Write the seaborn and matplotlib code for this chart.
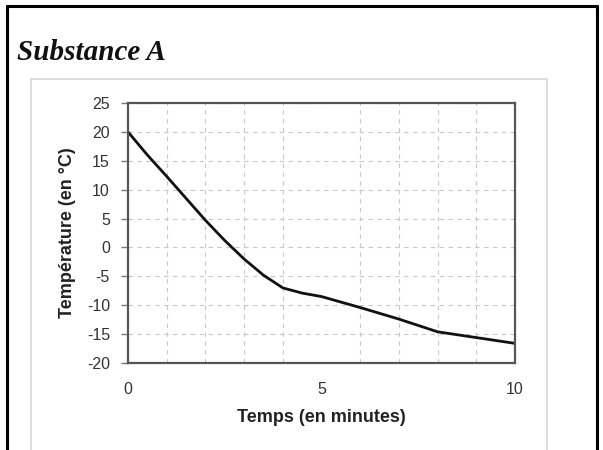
import matplotlib
matplotlib.use("Agg")
import matplotlib.pyplot as plt
import seaborn as sns
import pandas as pd
from matplotlib.lines import Line2D

sns.set_style("white")
plt.rcParams['font.family'] = ['Liberation Sans', 'DejaVu Sans']
plt.rcParams['axes.unicode_minus'] = False

# data
temps_min = [0, 0.5, 1, 1.5, 2, 2.5, 3, 3.5, 4, 4.5, 5, 6, 7, 8, 9, 10]
temp_c = [20, 16.0, 12.3, 8.5, 4.7, 1.2, -2.0, -4.8, -7.0, -7.9, -8.5, -10.4, -12.4, -14.6, -15.6, -16.6]
x_ticks = [0, 5, 10]
y_ticks = [25, 20, 15, 10, 5, 0, -5, -10, -15, -20]

df = pd.DataFrame({'temps': temps_min, 'temp': temp_c})

fig = plt.figure(figsize=(6.03, 4.5), dpi=100)
ax = fig.add_axes([0.2123, 0.1933, 0.6418, 0.5778])

sns.lineplot(data=df, x='temps', y='temp', color='#111111', linewidth=2, ax=ax)

ax.set_xlim(0, 10)
ax.set_ylim(-20, 25)
ax.set_xticks(x_ticks)
ax.set_yticks(y_ticks)
ax.set_xticks(range(0, 11), minor=True)

# dashed grid
ax.grid(True, which='major', axis='y', linestyle=(0, (4, 4)), color='#c8c8c8', linewidth=0.8)
ax.grid(True, which='minor', axis='x', linestyle=(0, (4, 4)), color='#c8c8c8', linewidth=0.8)
ax.grid(False, which='major', axis='x')

for s in ax.spines.values():
    s.set_color('#555555')
    s.set_linewidth(1.6)

ax.tick_params(axis='y', which='major', left=True, length=5, width=1, color='#777777',
               labelsize=11.5, labelcolor='#333333', pad=8)
ax.tick_params(axis='x', which='both', bottom=False, labelsize=11.5, labelcolor='#333333', pad=10)

ax.set_xlabel('Temps (en minutes)', fontsize=13, fontweight='bold', color='#222222', labelpad=9)
ax.set_ylabel('Température (en °C)', fontsize=13, fontweight='bold', color='#222222', labelpad=8)

# title and frames
fig.text(17 / 603, 1 - 60 / 450, 'Substance A', fontsize=21, fontweight='bold', fontstyle='italic',
         family=['Liberation Serif', 'DejaVu Serif'], color='#111111', va='baseline', ha='left')

# outer black frame
fig.add_artist(Line2D([7 / 603, 7 / 603], [0, 1 - 6 / 450], color='black', linewidth=2.2))
fig.add_artist(Line2D([7 / 603, 597 / 603], [1 - 6 / 450, 1 - 6 / 450], color='black', linewidth=2.2))
fig.add_artist(Line2D([597 / 603, 597 / 603], [0, 1 - 6 / 450], color='black', linewidth=2.2))

# light gray chart box
gc = '#d6d6d6'
fig.add_artist(Line2D([31 / 603, 31 / 603], [0, 1 - 79 / 450], color=gc, linewidth=1.2))
fig.add_artist(Line2D([31 / 603, 547 / 603], [1 - 79 / 450, 1 - 79 / 450], color=gc, linewidth=1.2))
fig.add_artist(Line2D([547 / 603, 547 / 603], [0, 1 - 79 / 450], color=gc, linewidth=1.2))

fig.savefig('out.png', dpi=100)
